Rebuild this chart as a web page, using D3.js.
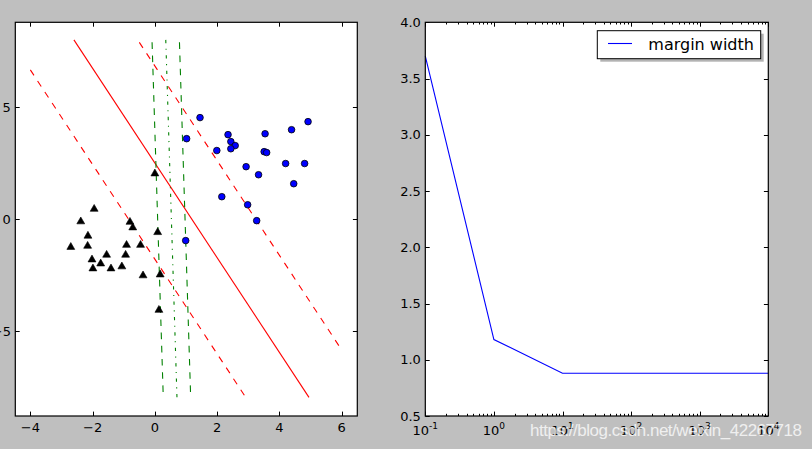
<!DOCTYPE html>
<html>
<head>
<meta charset="utf-8">
<script src="https://cdn.jsdelivr.net/npm/d3@7"></script>
<style>
  body { margin: 0; background: #bfbfbf; }
  svg text { font-family: "DejaVu Sans", sans-serif; }
</style>
</head>
<body>
<script>
// class +1 (blue circles)
var posX = [1.45, 1.02, 1.99, 2.35, 2.44, 2.58, 2.44, 2.93, 3.54, 3.51, 3.59,
            3.33, 4.39, 4.92, 4.20, 4.81, 4.46, 2.15, 2.98, 3.27, 0.99];
var posY = [4.54, 3.60, 3.07, 3.78, 3.47, 3.29, 3.15, 2.35, 3.82, 3.02, 2.98,
            1.99, 4.00, 4.36, 2.49, 2.49, 1.59, 1.01, 0.65, -0.06, -0.95];
// class -1 (black triangles)
var negX = [0.00, -1.95, -2.38, -0.80, -0.71, 0.09, -2.15, -2.70, -2.16, -0.91, -0.46,
            -0.94, -1.55, -2.02, -1.74, -1.99, -1.41, -1.06, -0.38, 0.17, 0.13];
var negY = [2.04, 0.46, -0.10, -0.12, -0.37, -0.58, -0.74, -1.24, -1.19, -1.15, -1.15,
            -1.59, -1.59, -1.80, -1.98, -2.20, -2.20, -2.11, -2.51, -2.47, -4.05];

// separating lines: [x0, y0, x1, y1]
var redSolid  = [-2.60, 8.01, 4.95, -7.95];
var redUpper  = [-0.50, 7.90, 6.00, -5.83];
var redLower  = [-4.00, 6.67, 2.92, -7.95];
var greenLeft = [-0.09, 7.90, 0.27, -7.95];
var greenMid  = [0.35, 8.01, 0.71, -7.95];
var greenRight = [0.79, 7.90, 1.15, -7.95];

// right panel
var cValues = [0.1, 1, 10, 100, 1000, 10000];
var marginWidths = [3.70, 1.18, 0.88, 0.88, 0.88, 0.88];
var rightYTicks = [0.5, 1.0, 1.5, 2.0, 2.5, 3.0, 3.5, 4.0];
var rightXTicks = [0.1, 1, 10, 100, 1000, 10000];
var leftXTicks = [-4, -2, 0, 2, 4, 6];
var leftYTicks = [-5, 0, 5];

var W = 812, H = 449;
var svg = d3.select("body").append("svg")
  .attr("width", W)
  .attr("height", H);

svg.append("rect").attr("width", W).attr("height", H).style("fill", "#bfbfbf");

var tickLen = 4.4, fontSize = 13;

// ---------- left panel ----------
var L = {x0: 15.3, x1: 357.3, y0: 22.3, y1: 416};
var lx = d3.scaleLinear().domain([-4.483, 6.502]).range([L.x0, L.x1]);
var ly = d3.scaleLinear().domain([-8.78, 8.795]).range([L.y1, L.y0]);

var left = svg.append("g");
left.append("rect")
  .attr("x", L.x0).attr("y", L.y0)
  .attr("width", L.x1 - L.x0).attr("height", L.y1 - L.y0)
  .style("fill", "white");

svg.append("clipPath").attr("id", "clipL")
  .append("rect")
  .attr("x", L.x0).attr("y", L.y0)
  .attr("width", L.x1 - L.x0).attr("height", L.y1 - L.y0);

var plotL = left.append("g").attr("clip-path", "url(#clipL)");

function seg(g, d, color, dash) {
  g.append("line")
    .attr("x1", lx(d[0])).attr("y1", ly(d[1]))
    .attr("x2", lx(d[2])).attr("y2", ly(d[3]))
    .style("stroke", color)
    .style("stroke-width", 1.1)
    .style("stroke-dasharray", dash);
}
seg(plotL, redSolid, "#ff0000", null);
seg(plotL, redUpper, "#ff0000", "6.6,6.6");
seg(plotL, redLower, "#ff0000", "6.6,6.6");
seg(plotL, greenLeft, "#008000", "6.6,6.6");
seg(plotL, greenMid, "#008000", "3.3,5.5,1.1,5.5");
seg(plotL, greenRight, "#008000", "6.6,6.6");

var posData = posX.map(function(x, i) { return [x, posY[i]]; });
var negData = negX.map(function(x, i) { return [x, negY[i]]; });

plotL.selectAll(".pos").data(posData).enter().append("circle")
  .attr("cx", function(d) { return lx(d[0]); })
  .attr("cy", function(d) { return ly(d[1]); })
  .attr("r", 3.3)
  .style("fill", "#0000ff")
  .style("stroke", "black")
  .style("stroke-width", 0.8);

var tri = d3.symbol().type(d3.symbolTriangle).size(27);
plotL.selectAll(".neg").data(negData).enter().append("path")
  .attr("d", tri)
  .attr("transform", function(d) { return "translate(" + lx(d[0]) + "," + ly(d[1]) + ")"; })
  .style("fill", "black")
  .style("stroke", "black")
  .style("stroke-width", 0.6);

// ticks
function vtick(g, x, y, len) {
  g.append("line").attr("x1", x).attr("x2", x).attr("y1", y).attr("y2", y + len)
    .style("stroke", "black").style("stroke-width", 1);
}
function htick(g, x, y, len) {
  g.append("line").attr("x1", x).attr("x2", x + len).attr("y1", y).attr("y2", y)
    .style("stroke", "black").style("stroke-width", 1);
}

leftXTicks.forEach(function(t) {
  var x = Math.round(lx(t)) + 0.5;
  vtick(left, x, L.y1, -tickLen);
  vtick(left, x, L.y0, tickLen);
  left.append("text")
    .attr("x", lx(t)).attr("y", L.y1 + 4.4 + 12)
    .attr("text-anchor", "middle")
    .style("font-size", fontSize + "px")
    .text(t < 0 ? "\u2212" + Math.abs(t) : t);
});
leftYTicks.forEach(function(t) {
  var y = Math.round(ly(t)) + 0.5;
  htick(left, L.x0, y, tickLen);
  htick(left, L.x1, y, -tickLen);
  left.append("text")
    .attr("x", L.x0 - 4.4).attr("y", ly(t)).attr("dy", "0.36em")
    .attr("text-anchor", "end")
    .style("font-size", fontSize + "px")
    .text(t < 0 ? "\u2212" + Math.abs(t) : t);
});

left.append("rect")
  .attr("x", L.x0).attr("y", L.y0)
  .attr("width", L.x1 - L.x0).attr("height", L.y1 - L.y0)
  .style("fill", "none").style("stroke", "black").style("stroke-width", 1.2);

// ---------- right panel ----------
var R = {x0: 425.3, x1: 768.3, y0: 22.3, y1: 416};
var rx = d3.scaleLog().domain([0.1, 10000]).range([R.x0, R.x1]);
var ry = d3.scaleLinear().domain([0.5, 4.0]).range([R.y1, R.y0]);

var right = svg.append("g");
right.append("rect")
  .attr("x", R.x0).attr("y", R.y0)
  .attr("width", R.x1 - R.x0).attr("height", R.y1 - R.y0)
  .style("fill", "white");

var lineGen = d3.line()
  .x(function(d) { return rx(d[0]); })
  .y(function(d) { return ry(d[1]); });

right.append("path")
  .datum(cValues.map(function(c, i) { return [c, marginWidths[i]]; }))
  .attr("d", lineGen)
  .style("fill", "none")
  .style("stroke", "#0000ff")
  .style("stroke-width", 1.1);

// minor log ticks
var minor = [];
for (var e = -1; e < 4; e++) {
  for (var m = 2; m < 10; m++) minor.push(m * Math.pow(10, e));
}
minor.forEach(function(t) {
  var x = Math.round(rx(t)) + 0.5;
  vtick(right, x, R.y1, -2.2);
  vtick(right, x, R.y0, 2.2);
});
rightXTicks.forEach(function(t) {
  var x = Math.round(rx(t)) + 0.5;
  vtick(right, x, R.y1, -tickLen);
  vtick(right, x, R.y0, tickLen);
  var exp = Math.round(Math.log10(t));
  var txt = right.append("text")
    .attr("x", rx(t)).attr("y", R.y1 + 4.4 + 14.5)
    .attr("text-anchor", "middle")
    .style("font-size", fontSize + "px");
  txt.append("tspan").text("10");
  txt.append("tspan")
    .attr("dy", -6)
    .style("font-size", "9px")
    .text(exp < 0 ? "-" + Math.abs(exp) : exp);
});
rightYTicks.forEach(function(t) {
  var y = Math.round(ry(t)) + 0.5;
  htick(right, R.x0, y, tickLen);
  htick(right, R.x1, y, -tickLen);
  right.append("text")
    .attr("x", R.x0 - 4.4).attr("y", ry(t)).attr("dy", "0.36em")
    .attr("text-anchor", "end")
    .style("font-size", fontSize + "px")
    .text(t.toFixed(1));
});

right.append("rect")
  .attr("x", R.x0).attr("y", R.y0)
  .attr("width", R.x1 - R.x0).attr("height", R.y1 - R.y0)
  .style("fill", "none").style("stroke", "black").style("stroke-width", 1.2);

// legend
var leg = right.append("g");
leg.append("rect")
  .attr("x", 600.3).attr("y", 33.7).attr("width", 163.4).attr("height", 28)
  .style("fill", "#808080").style("opacity", 0.6);
leg.append("rect")
  .attr("x", 597.3).attr("y", 30.7).attr("width", 163.4).attr("height", 28)
  .style("fill", "white").style("stroke", "black").style("stroke-width", 1);
leg.append("line")
  .attr("x1", 608).attr("x2", 632).attr("y1", 43.5).attr("y2", 43.5)
  .style("stroke", "#0000ff").style("stroke-width", 1.1);
leg.append("text")
  .attr("x", 648.3).attr("y", 49.5)
  .style("font-size", "16px")
  .text("margin width");

// watermark
svg.append("text")
  .attr("x", 530).attr("y", 436)
  .attr("textLength", 272)
  .style("font-family", "'Liberation Sans', Arial, sans-serif")
  .style("font-size", "17px")
  .style("fill", "white")
  .style("opacity", 0.75)
  .text("https://blog.csdn.net/weixin_42267718");
</script>
</body>
</html>
